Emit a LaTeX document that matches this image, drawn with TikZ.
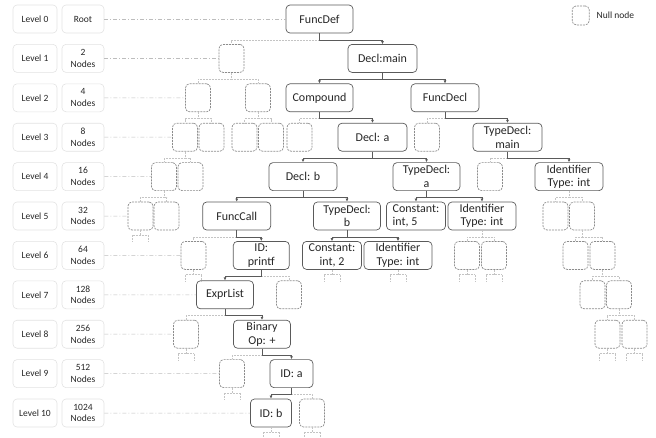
\documentclass[tikz,border=0pt]{standalone}
\usepackage{fontspec}
\setmainfont{Carlito}
\usetikzlibrary{arrows.meta}
\definecolor{nodeline}{HTML}{5A5A5A}
\definecolor{nullline}{HTML}{8C8C8C}
\definecolor{nulledge}{HTML}{C4C4C4}
\definecolor{levelline}{HTML}{E2E2E2}
\definecolor{guide}{HTML}{BDBDBD}
\definecolor{txt}{HTML}{262626}
\tikzset{
  ast/.style={draw=nodeline, line width=0.7pt, rounded corners=4pt, minimum height=28pt, inner sep=1pt, align=center, text=txt, font=\fontsize{12}{13.5}\selectfont},
  nul/.style={draw=nullline, line width=0.7pt, dash pattern=on 2pt off 1pt, rounded corners=4pt, minimum width=25pt, minimum height=28pt, inner sep=0pt},
  lvl/.style={draw=levelline, line width=0.6pt, rounded corners=4pt, minimum height=28pt, inner sep=1pt, align=center, text=txt, font=\fontsize{9.5}{11.7}\selectfont},
  arr/.style={draw=nodeline, line width=0.7pt, -{Latex[length=3pt,width=3pt]}},
  nedge/.style={draw=nulledge, line width=0.6pt, dash pattern=on 2pt off 1pt},
  guideline/.style={draw=guide, line width=0.5pt, dash pattern=on 4pt off 2pt on 1pt off 2pt},
}
% parent to child, solid with arrow / dashed to a null node
\newcommand{\kid}[2]{\draw[arr] (#1.south) -- ++(0,6.5) -| (#2.north);}
\newcommand{\nkid}[2]{\draw[nedge] (#1.south) -- ++(0,6.5) -| (#2.north);}
% the tree goes on below
\newcommand{\more}[1]{\draw[nedge] (#1.south) -- ++(0,5) ++(-8,0) -- ++(16,0) (#1.south) ++(-8,5) -- ++(0,7) (#1.south) ++(8,5) -- ++(0,7);}
\begin{document}
\begin{tikzpicture}[x=1pt, y=-1pt]
\useasboundingbox (0,0) rectangle (656,437);

% levels
\node[lvl, minimum width=44pt] (lv0) at (35,19) {Level 0};
\node[lvl, minimum width=42pt] (ct0) at (83,19) {Root};
\foreach \k/\n in {1/2,2/4,3/8,4/16,5/32,6/64,7/128,8/256,9/512,10/1024} {
  \node[lvl, minimum width=44pt] (lv\k) at (35,{19+39.4*\k}) {Level \k};
  \node[lvl, minimum width=42pt] (ct\k) at (83,{19+39.4*\k}) {\n\\Nodes};
}

% level 0 - 2
\node[ast, minimum width=67pt] (funcdef) at (319.5,19) {FuncDef};
\node[nul] (n1a) at (231.5,58.4) {};
\node[ast, minimum width=69pt] (declmain) at (382.5,58.4) {Decl:main};
\node[nul] (n2a) at (198,97.8) {};
\node[nul] (n2b) at (258,97.8) {};
\node[ast, minimum width=67pt] (compound) at (319.5,97.8) {Compound};
\node[ast, minimum width=68pt] (funcdecl) at (445,97.8) {FuncDecl};

% level 3
\foreach \n/\x in {n3a/185,n3b/211.5,n3c/244.5,n3d/271,n3e/299.5,n3f/427}
  \node[nul] (\n) at (\x,137.2) {};
\node[ast, minimum width=69pt] (decla) at (372.5,137.2) {Decl: a};
\node[ast, minimum width=69pt] (tdmain) at (507.5,137.2) {TypeDecl:\\main};

% level 4
\node[nul] (n4a) at (164,176.6) {};
\node[nul] (n4b) at (190.5,176.6) {};
\node[nul] (n4c) at (490,176.6) {};
\node[ast, minimum width=68pt] (declb) at (303,176.6) {Decl: b};
\node[ast, minimum width=67pt] (tda) at (426.5,176.6) {TypeDecl:\\a};
\node[ast, minimum width=68pt] (idint) at (569,176.6) {Identifier\\Type: int};

% level 5
\foreach \n/\x in {n5a/140.5,n5b/166.5,n5c/555.5,n5d/582}
  \node[nul] (\n) at (\x,216) {};
\node[ast, minimum width=68pt] (funccall) at (236.7,216) {FuncCall};
\node[ast, minimum width=67pt] (tdb) at (347,216) {TypeDecl:\\b};
\node[ast, minimum width=59pt, align=left] (cstfive) at (416,216) {Constant:\\int, 5};
\node[ast, minimum width=68pt] (idfive) at (482,216) {Identifier\\Type: int};

% level 6
\foreach \n/\x in {n6a/193.5,n6b/467,n6c/494,n6d/575.5,n6e/602.5}
  \node[nul] (\n) at (\x,255.4) {};
\node[ast, minimum width=56pt] (printf) at (261.3,255.4) {ID:\\printf};
\node[ast, minimum width=59pt] (csttwo) at (332,255.4) {Constant:\\int, 2};
\node[ast, minimum width=68pt] (idtwo) at (398,255.4) {Identifier\\Type: int};

% level 7 - 10
\node[ast, minimum width=57pt] (exprlist) at (225,294.8) {ExprList};
\node[nul] (n7a) at (289,294.8) {};
\node[nul] (n7b) at (592.5,294.8) {};
\node[nul] (n7c) at (619,294.8) {};
\node[nul] (n8a) at (186,334.2) {};
\node[ast, minimum width=57pt] (binop) at (262,334.2) {Binary\\Op: +};
\node[nul] (n8b) at (607.5,334.2) {};
\node[nul] (n8c) at (634.5,334.2) {};
\node[nul] (n9a) at (232,373.6) {};
\node[ast, minimum width=43pt] (ida) at (291.5,373.6) {ID: a};
\node[ast, minimum width=41pt] (idb) at (271,413) {ID: b};
\node[nul] (n10a) at (312,413) {};

% legend
\node[nul, minimum width=17pt, minimum height=19pt] (legbox) at (580.7,15.4) {};
\node[anchor=west, text=txt, font=\fontsize{9.5}{11}\selectfont, inner sep=0pt] (legtxt) at (596.5,15.4) {Null node};

% guides from the level boxes
\foreach \k/\t in {0/funcdef,1/n1a,2/n2a,3/n3a,4/n4a,5/n5a,6/n6a,7/exprlist,8/n8a,9/n9a,10/idb}
  \draw[guideline] (ct\k.east) -- (\t.west);

% null edges
\nkid{funcdef}{n1a}
\nkid{n1a}{n2a} \nkid{n1a}{n2b}
\nkid{n2a}{n3a} \nkid{n2a}{n3b} \nkid{n2b}{n3c} \nkid{n2b}{n3d}
\nkid{compound}{n3e} \nkid{funcdecl}{n3f}
\nkid{n3a}{n4a} \nkid{n3a}{n4b} \nkid{tdmain}{n4c}
\nkid{n4a}{n5a} \nkid{n4a}{n5b} \nkid{idint}{n5c} \nkid{idint}{n5d}
\nkid{funccall}{n6a} \nkid{idfive}{n6b} \nkid{idfive}{n6c} \nkid{n5d}{n6d} \nkid{n5d}{n6e}
\nkid{printf}{n7a} \nkid{n6e}{n7b} \nkid{n6e}{n7c}
\nkid{exprlist}{n8a} \nkid{n7c}{n8b} \nkid{n7c}{n8c}
\nkid{binop}{n9a}
\nkid{ida}{n10a}
\foreach \n in {n5a,n6a,csttwo,idtwo,n6b,n6c,n8a,n8b,n8c,n9a,idb,n10a} {
  \more{\n}
}

% real edges
\kid{funcdef}{declmain}
\kid{declmain}{compound} \kid{declmain}{funcdecl}
\kid{compound}{decla} \kid{funcdecl}{tdmain}
\kid{decla}{declb} \kid{decla}{tda} \kid{tdmain}{idint}
\kid{declb}{funccall} \kid{declb}{tdb} \kid{tda}{cstfive} \kid{tda}{idfive}
\kid{funccall}{printf} \kid{tdb}{csttwo} \kid{tdb}{idtwo}
\kid{printf}{exprlist}
\kid{exprlist}{binop}
\kid{binop}{ida}
\kid{ida}{idb}
\end{tikzpicture}
\end{document}
